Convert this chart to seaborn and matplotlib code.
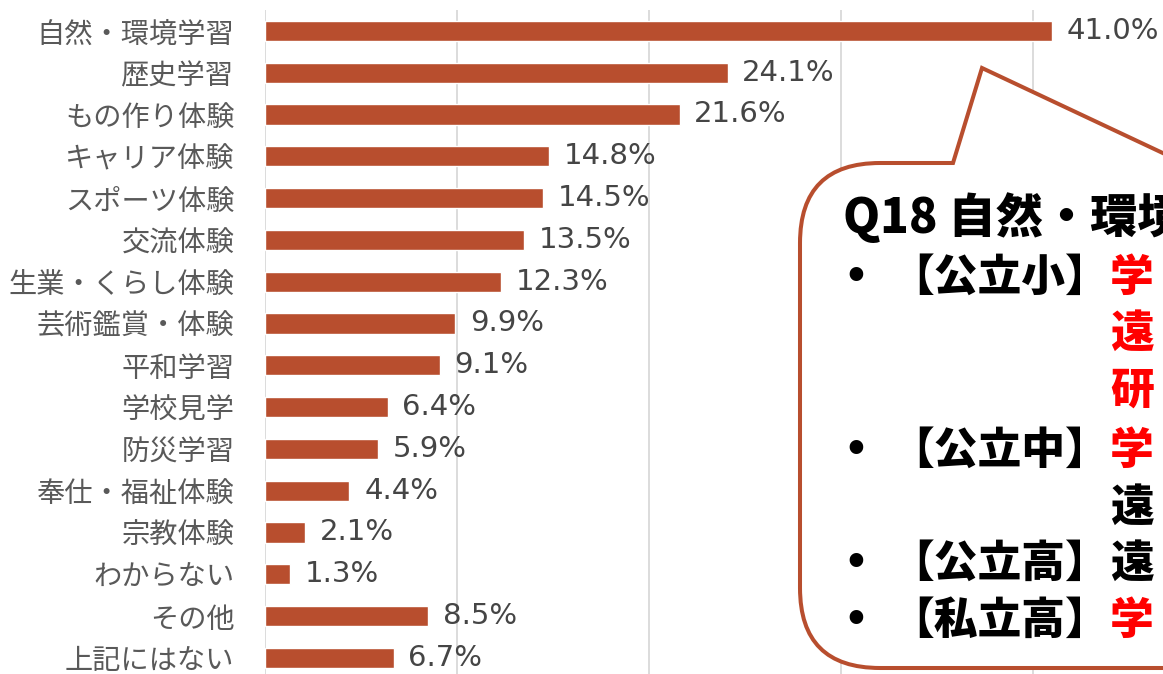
import numpy as np
import matplotlib
matplotlib.use("Agg")
import matplotlib.pyplot as plt
import seaborn as sns
from matplotlib.path import Path
from matplotlib.patches import PathPatch

categories = ["自然・環境学習", "歴史学習", "もの作り体験", "キャリア体験", "スポーツ体験",
              "交流体験", "生業・くらし体験", "芸術鑑賞・体験", "平和学習", "学校見学",
              "防災学習", "奉仕・福祉体験", "宗教体験", "わからない", "その他", "上記にはない"]
values = [41.0, 24.1, 21.6, 14.8, 14.5, 13.5, 12.3, 9.9, 9.1, 6.4, 5.9, 4.4, 2.1, 1.3, 8.5, 6.7]
value_labels = [f"{v:.1f}%" for v in values]

callout_title = "Q18 自然・環境"
callout_rows = [
    ("•", "【公立小】", "学", "red"),
    ("", "", "遠", "red"),
    ("", "", "研", "red"),
    ("•", "【公立中】", "学", "red"),
    ("", "", "遠", "black"),
    ("•", "【公立高】", "遠", "black"),
    ("•", "【私立高】", "学", "red"),
]

sns.set_style("white")
plt.rcParams['font.family'] = ['Noto Sans CJK JP', 'DejaVu Sans']

W, H = 1163, 674
fig = plt.figure(figsize=(W / 100, H / 100), dpi=100)

def fx(px):
    return px / W

def fy(py):
    return 1 - py / H

left_px, top_px, row_h = 265, 10, 41.8
n = len(categories)
ax_h = n * row_h
ax = fig.add_axes([fx(left_px), fy(top_px + ax_h), 1 - fx(left_px), ax_h / H])

bar_color = "#B84E2E"
sns.barplot(x=values, y=categories, orient="h", color=bar_color, saturation=1,
            width=0.48, ax=ax)
ax.set_xlim(0, (W - left_px) / 19.2)
ax.set_ylim(n - 0.5, -0.5)
ax.set_xticks(np.arange(0, 50, 10))
ax.set_xticklabels([])
ax.xaxis.grid(True, color="#D9D9D9", lw=1.3)
ax.yaxis.grid(False)
ax.set_axisbelow(True)
for s in ax.spines.values():
    s.set_visible(False)
ax.tick_params(axis="y", length=0, pad=22, labelsize=20.3, labelcolor="#595959")
ax.tick_params(axis="x", length=0)
ax.set_xlabel("")
ax.set_ylabel("")
ax.bar_label(ax.containers[0], labels=value_labels, padding=10.5,
             fontsize=21, color="#454545", family="DejaVu Sans")

# speech-bubble callout
pts = [
    (1260, 668), (880, 668), (800, 668), (800, 588), (800, 243), (800, 163), (880, 163),
    (953, 163), (982, 68), (1184, 163), (1260, 163), (1260, 668),
]
codes = [Path.MOVETO, Path.LINETO, Path.CURVE3, Path.CURVE3, Path.LINETO, Path.CURVE3,
         Path.CURVE3, Path.LINETO, Path.LINETO, Path.LINETO, Path.LINETO, Path.CLOSEPOLY]
path = Path([(fx(x), fy(y)) for x, y in pts], codes)
fig.add_artist(PathPatch(path, transform=fig.transFigure, facecolor="white",
                         edgecolor=bar_color, lw=2.9, zorder=10, joinstyle="miter"))

fig.text(fx(843), fy(218), callout_title, fontsize=34, weight="heavy", color="black",
         va="center", ha="left", zorder=11)
row_y = [277, 333, 390, 450, 507, 563, 620]
for (bul, tag, word, col), y in zip(callout_rows, row_y):
    if bul:
        fig.text(fx(843), fy(y), bul, fontsize=28, weight="heavy", color="black",
                 va="center", ha="left", zorder=11, family="DejaVu Sans")
    if tag:
        fig.text(fx(890), fy(y), tag, fontsize=31.5, weight="heavy", color="black",
                 va="center", ha="left", zorder=11)
    fig.text(fx(1110), fy(y), word, fontsize=31.5, weight="heavy", color=col,
             va="center", ha="left", zorder=11)

fig.savefig("out.png", dpi=100)
